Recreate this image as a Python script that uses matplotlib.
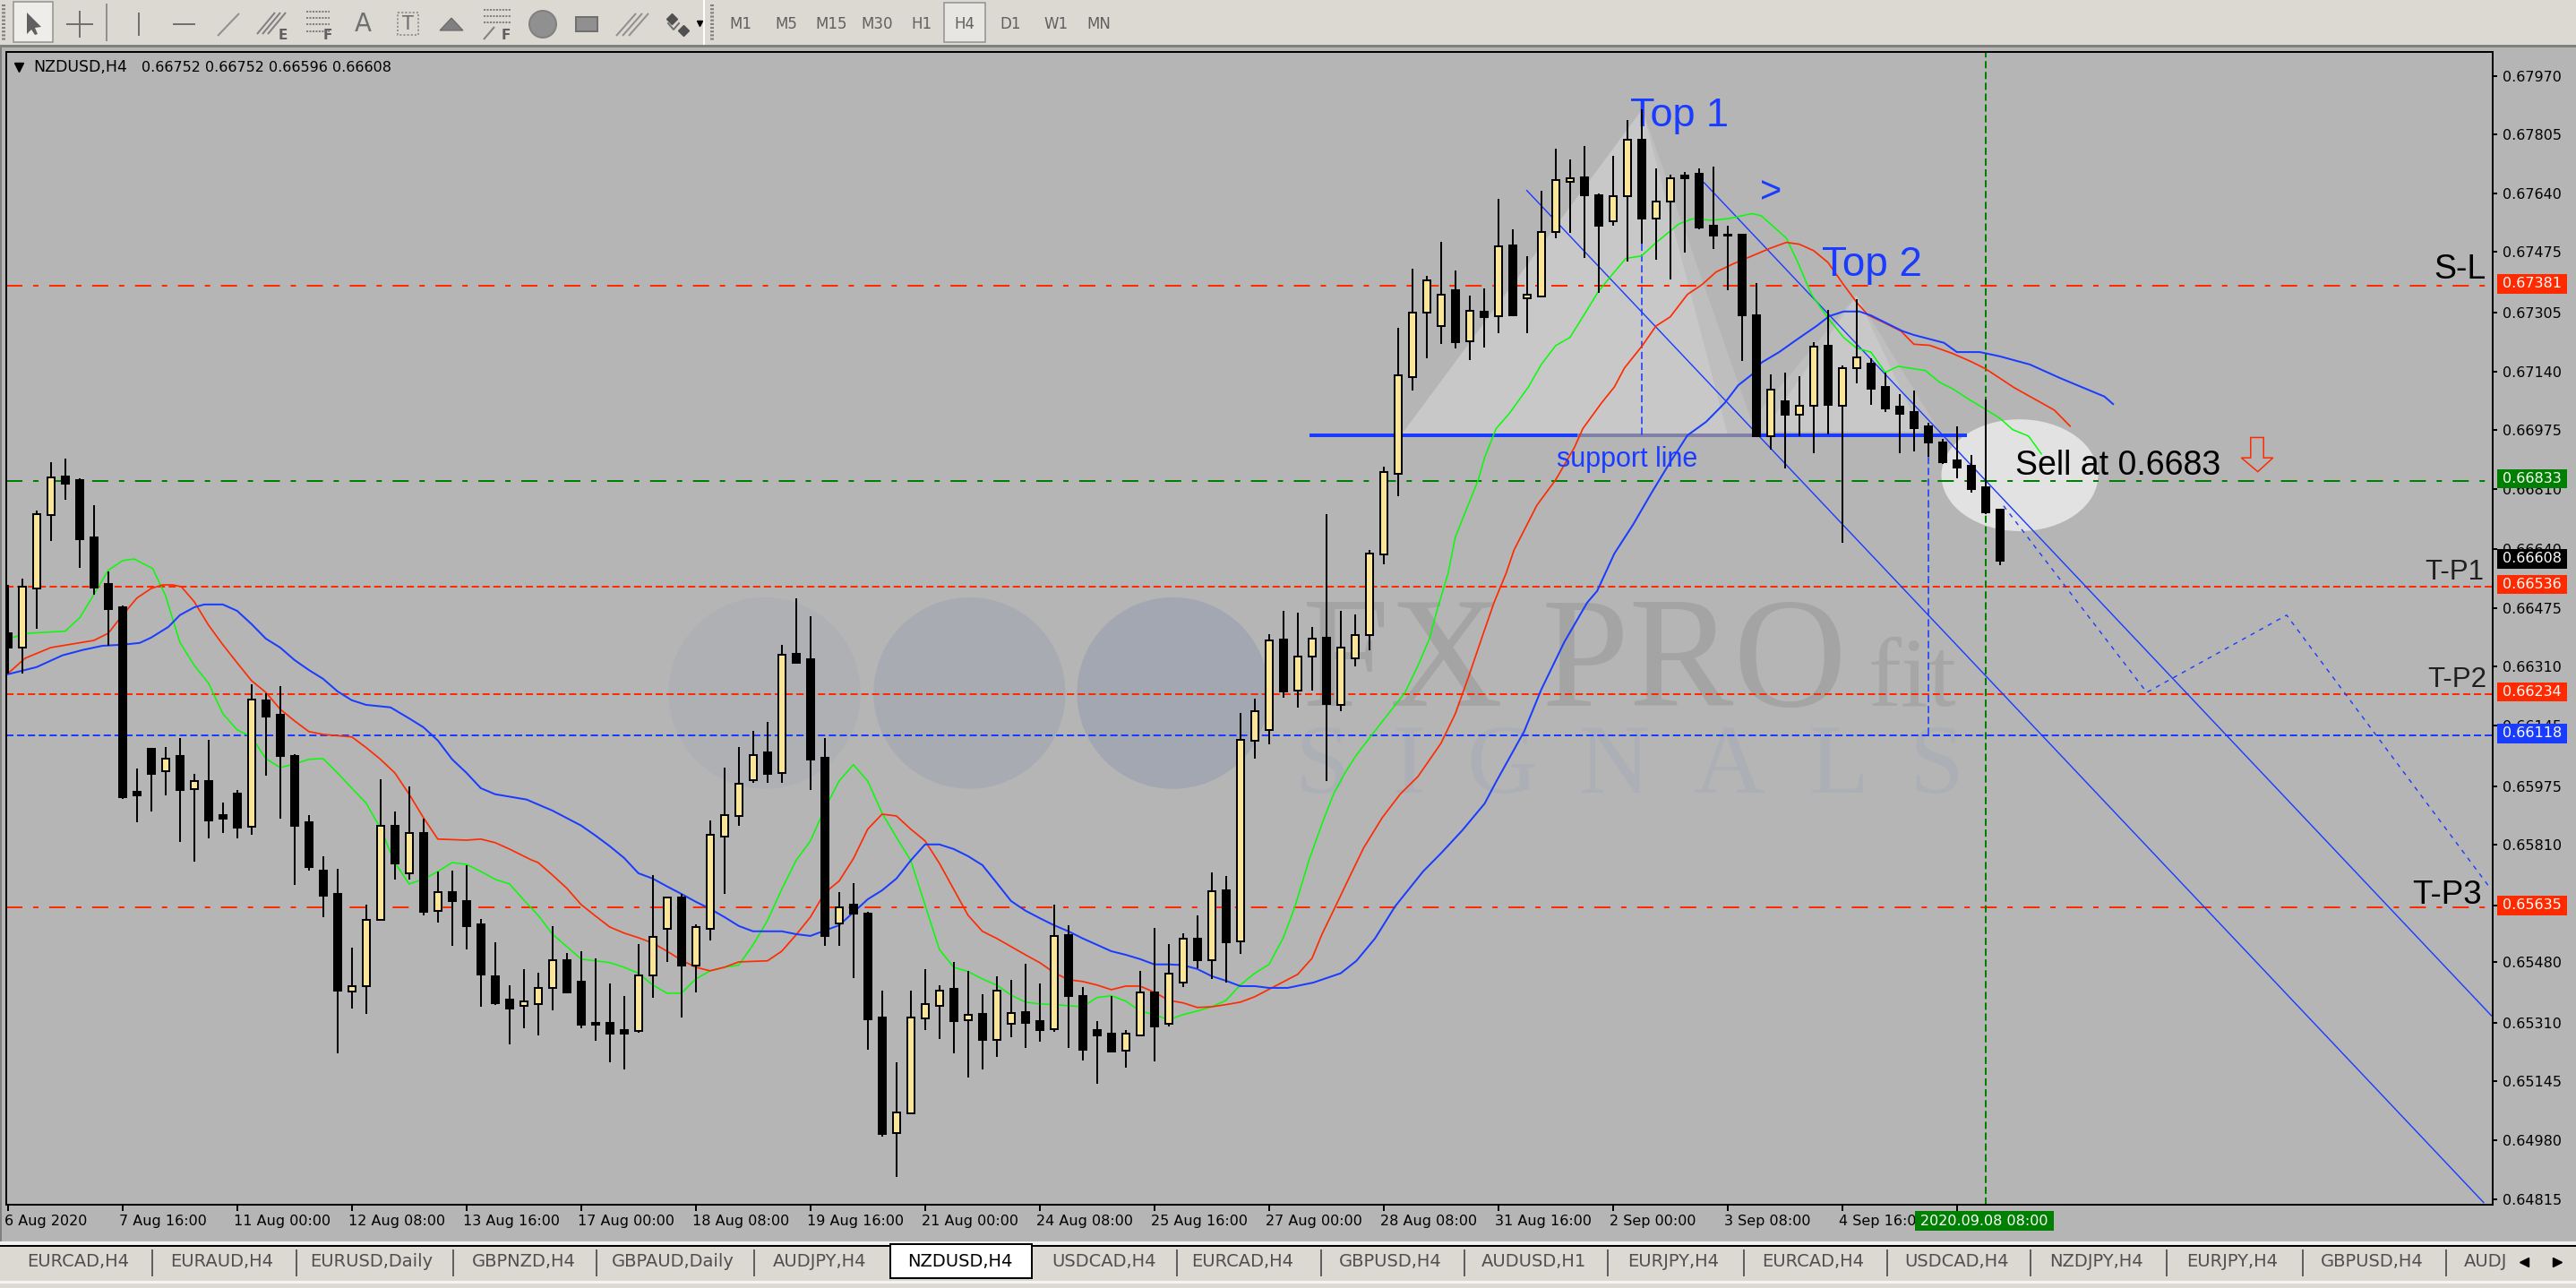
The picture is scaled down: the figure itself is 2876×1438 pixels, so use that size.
import matplotlib
matplotlib.use("Agg")
import matplotlib.pyplot as plt
import numpy as np
from matplotlib.patches import Ellipse, Polygon, Rectangle
from matplotlib.transforms import ScaledTranslation

plt.rcParams['lines.scale_dashes'] = False
plt.rcParams['font.family'] = ['DejaVu Sans']

# prices are kept in points (1 point = 0.00001)
opens = [66405,66363,66530,66736,66845,66835,66674,66543,66477,65959,66080,66016,66060,65966,65989,65894,65954,65860,66216,66176,
         66060,65874,65738,65672,65397,65412,65599,65864,65730,65843,65624,65677,65652,65587,65441,65376,65357,65362,65407,65486,
         65426,65310,65310,65290,65287,65443,65574,65661,65472,65574,65834,65890,65992,66070,66012,66347,66332,66055,65588,65642,
         65617,65325,65000,65055,65323,65358,65406,65318,65335,65262,65308,65340,65315,65293,65557,65386,65290,65280,65231,65275,
         65396,65306,65422,65545,65487,65681,65539,66103,66133,66387,66243,66338,66391,66204,66333,66399,66626,66851,67123,67304,
         67268,67368,67224,67308,67295,67494,67345,67349,67531,67672,67685,67635,67562,67631,67791,67570,67616,67689,67694,67548,
         67523,67523,67297,66957,67055,67019,67044,67212,67043,67148,67162,67096,67041,67026,66986,66940,66890,66875,66815,66752]
highs = [66541,66558,66749,66885,66895,66840,66764,66578,66482,66025,66080,66085,66110,66010,66105,65929,65964,66261,66236,66256,
         66065,65894,65778,65743,65521,65642,65994,65904,65974,65884,65735,65738,65753,65602,65537,65416,65461,65451,65582,65506,
         65511,65491,65421,65386,65532,65726,65661,65672,65587,65879,66028,66085,66130,66155,66372,66503,66452,66110,65677,65703,
         65621,65400,65199,65400,65461,65416,65481,65456,65391,65441,65430,65475,65421,65641,65584,65410,65315,65386,65290,65456,
         65577,65532,65562,65612,65733,65723,66181,66221,66402,66467,66462,66422,66739,66467,66457,66638,66873,67262,67428,67408,
         67504,67422,67353,67372,67625,67539,67464,67648,67765,67735,67774,67640,67745,67846,67876,67710,67693,67700,67710,67715,
         67548,67523,67388,67131,67136,67126,67222,67313,67157,67343,67177,67136,67076,67086,66996,66950,66986,66905,67061,66752]
lows = [66292,66292,66418,66664,66779,66588,66513,66370,65939,65874,65904,65949,65818,65763,65828,65843,65828,65838,66005,65884,
        65698,65738,65607,65225,65350,65335,65599,65713,65713,65612,65592,65527,65516,65355,65361,65250,65295,65275,65345,65396,
        65295,65260,65199,65179,65282,65381,65481,65326,65396,65542,65672,65864,65984,65984,65984,66322,65964,65527,65527,65436,
        65235,64990,64877,65055,65290,65265,65225,65157,65180,65215,65270,65240,65256,65285,65240,65203,65139,65230,65184,65272,
        65201,65300,65411,65464,65433,65422,65504,66051,66091,66223,66196,66242,65990,66186,66311,66357,66599,66790,67087,67177,
        67217,67203,67172,67208,67247,67297,67247,67350,67514,67529,67459,67361,67549,67448,67499,67453,67398,67474,67540,67484,
        67368,67168,66958,66921,66867,66958,66910,66963,66659,67106,67046,67026,66910,66915,66900,66880,66840,66799,66739,66596]
closes = [66364,66536,66738,66843,66825,66669,66533,66472,65944,65949,66010,66053,65964,65988,65879,65884,65859,66219,66171,66060,
          65864,65748,65667,65401,65414,65600,65862,65758,65842,65622,65676,65652,65582,65446,65366,65350,65370,65409,65485,65396,
          65305,65305,65280,65280,65444,65552,65661,65472,65580,65837,65893,65982,66063,66010,66344,66322,66050,65554,65635,65617,
          65320,64998,65057,65324,65363,65400,65315,65333,65262,65400,65338,65310,65290,65554,65386,65235,65275,65230,65280,65396,
          65300,65449,65545,65486,65680,65537,66104,66186,66385,66241,66340,66390,66206,66365,66400,66627,66858,67130,67306,67396,
          67356,67222,67311,67293,67492,67297,67356,67532,67678,67683,67635,67549,67633,67790,67569,67618,67683,67682,67543,67520,
          67520,67297,66957,67089,67017,67044,67210,67046,67150,67179,67091,67036,67021,66981,66940,66885,66870,66810,66744,66608]

green_x = [0,1.4,4,5,6,7,8,8.8,10.1,11,12,13,14,15,16,17,18,19,20,21,22,23,24,25,26,27,28,29,30,31,32,33,34,35,36,37,38,39,40,
           41,42,43,44,45,46,47,48,49,50,51,52,53,54,55,56,57,58,59,60,61,62,63,64,65,66,67,68,69,70,71,72,73,74,75,76,77,78,79,
           80,81,82,83,84,85,86,87,88,89,89.8,90.8,91.7,92.5,93.3,94.1,95.2,97.5,98.4,99.2,99.7,100.5,101,102.6,103.05,103.85,
           104.8,106.1,107,108,109,109.9,111,112.1,112.9,114,115,116.6,117.6,118.8,120.1,121.7,122.35,124.1,124.9,125.85,127,
           128.1,129,130,131,131.9,133.8,134.8,135.7,136.85,138,139,139.9,141,141.9]
green_y = [66389,66404,66410,66447,66513,66581,66608,66613,66586,66510,66379,66314,66264,66178,66133,66113,66052,66027,66037,
           66050,66052,66012,65969,65927,65856,65760,65700,65713,65735,65760,65755,65735,65713,65700,65655,65612,65559,65524,
           65489,65484,65479,65466,65449,65416,65393,65393,65433,65456,65466,65472,65529,65597,65685,65766,65821,65911,65989,
           66035,65989,65899,65831,65766,65641,65516,65466,65454,65433,65416,65388,65368,65363,65361,65358,65355,65381,65386,
           65371,65343,65333,65318,65333,65343,65355,65373,65416,65449,65474,65549,65635,65768,65869,65952,66012,66062,66120,
           66238,66314,66389,66465,66573,66674,66835,66898,66979,67023,67096,67159,67212,67235,67293,67365,67419,67457,67464,
           67501,67554,67569,67564,67569,67583,67577,67514,67446,67356,67290,67235,67205,67194,67137,67154,67142,67109,67091,
           67061,67033,67008,66976,66958,66908]

red_x = [0,1.2,3,4.5,6,7,8,9,10,10.8,11.5,12.1,13,14,15,16,17,18,19,20,21,22,24,25,26,27,28,29,30,32,33,34,35,36.5,37,38,39,40,
         41,42,43,44,45,46,47,48,49,50,51,53,54,55,56,57,58,59,60,61,62,63,64,65,66,67,68,69,70,71,72,73,74,75,76,77,78,79,80,
         81,82,83,84,85,86,87,90,91,91.7,92.7,93.6,94.6,95.9,97.15,98.4,100,101,101.9,102.9,103.7,104.55,105.1,106.7,108,109.3,
         109.9,111.2,112.1,112.8,114.05,115,116,117.2,118.2,119.2,120.4,121.7,123,124.1,125,126,127,128.1,129,129.8,130.95,
         132.1,133,134.1,135.7,136.95,138,140,142.8,143.9]
red_y = [66291,66334,66364,66374,66384,66404,66455,66503,66530,66540,66540,66535,66493,66427,66372,66321,66271,66238,66191,66158,
         66128,66120,66113,66083,66050,66012,65952,65886,65826,65823,65826,65816,65798,65768,65760,65725,65688,65642,65610,65579,
         65562,65549,65534,65511,65486,65466,65456,65466,65481,65484,65511,65557,65607,65675,65708,65771,65854,65896,65891,65854,
         65821,65758,65685,65612,65567,65547,65524,65501,65479,65451,65431,65426,65416,65403,65413,65413,65396,65373,65366,65353,
         65355,65361,65368,65383,65446,65491,65559,65642,65718,65801,65886,65952,66002,66095,66178,66279,66397,66490,66573,66638,
         66764,66835,66925,66979,67051,67096,67149,67212,67267,67293,67356,67383,67419,67442,67464,67486,67502,67497,67479,67446,
         67383,67334,67298,67276,67253,67216,67213,67190,67168,67147,67094,67031,66986]

blue_x = [0,2,3.8,5.2,6.6,8,9.2,10,11.2,12,13,13.7,15,16,17,18,19,20,21,22,23,24,25,26.7,28,29,30,31,32,33,34,36.2,38,40,41,42,43,
          44,45,46,47,48,49,50,51,52,53,54,55,56,57,58,59,60,61,62,63,64,65,66,67,68,69,70,71,72,73,74,75,76,77,78,79,80,81,82,83,
          84,85,86,87,88,89.3,91.1,93,94.1,95.4,96.8,98.75,100,101.5,103.05,103.85,105.8,107,108.6,110.2,110.9,112.1,113.4,114.7,
          115.8,117.2,118.5,119.8,120.75,121.7,122.35,123.6,124.9,126.2,127.1,128.1,129.2,130,132.2,133,135.1,136,137.6,139,141.1,
          143.2,146.3,146.9]
blue_y = [66289,66309,66342,66357,66369,66372,66377,66392,66422,66455,66477,66485,66485,66467,66430,66389,66364,66329,66301,66276,
          66241,66216,66203,66196,66165,66140,66103,66050,66012,65969,65952,65937,65906,65864,65836,65806,65773,65730,65715,65693,
          65672,65650,65630,65607,65582,65567,65567,65567,65559,65554,65569,65584,65620,65657,65682,65715,65766,65811,65811,65798,
          65778,65753,65703,65652,65625,65604,65584,65567,65547,65529,65511,65501,65489,65474,65474,65472,65461,65441,65428,65413,
          65413,65408,65408,65423,65449,65484,65547,65637,65735,65786,65851,65926,65987,66128,66246,66379,66490,66523,66628,66709,
          66799,66872,66960,66998,67051,67101,67131,67164,67194,67231,67267,67295,67308,67308,67297,67253,67242,67220,67194,67194,
          67182,67159,67121,67069,67048]

# horizontal levels
sl_level = 0.67381
sell_level = 0.66833
tp1_level = 0.66536
tp2_level = 0.66234
blue_level = 0.66118
tp3_level = 0.65635
last_price = 0.66608
support_level = 0.66961

# hand drawn objects, (candle, points)
line_a = ([105.99, 172.76], [67648, 64805])
line_b = ([118.36, 173.3], [67670, 65330])
forecast = ([139.26, 149.25, 159.01, 173.2], [66762, 66238, 66455, 65689])
top1_outer = [(97.3, 66965), (114.05, 67876), (122, 66963)]
top1_inner = [(97.3, 66965), (114.05, 67876), (120, 66963)]
top2_outer = [(121, 66970), (129, 67353), (134.8, 66970)]
top2_inner = [(122.5, 66970), (129, 67353), (133.5, 66970)]
arrow_pts = [(156.5, 66954), (157.4, 66954), (157.4, 66897), (158.06, 66897), (157, 66858),
             (155.85, 66897), (156.5, 66897)]

ytick_vals = [0.67970,0.67805,0.67640,0.67475,0.67305,0.67140,0.66975,0.66810,0.66640,0.66475,0.66310,0.66145,
              0.65975,0.65810,0.65640,0.65480,0.65310,0.65145,0.64980,0.64815]
xtick_idx = list(range(0, 137, 8))
xtick_lab = ["6 Aug 2020","7 Aug 16:00","11 Aug 00:00","12 Aug 08:00","13 Aug 16:00","17 Aug 00:00","18 Aug 08:00",
             "19 Aug 16:00","21 Aug 00:00","24 Aug 08:00","25 Aug 16:00","27 Aug 00:00","28 Aug 08:00","31 Aug 16:00",
             "2 Sep 00:00","3 Sep 08:00","4 Sep 16:00","8 Sep 00:00"]
tab_names = ["EURCAD,H4","EURAUD,H4","EURUSD,Daily","GBPNZD,H4","GBPAUD,Daily","AUDJPY,H4","NZDUSD,H4","USDCAD,H4","EURCAD,H4",
             "GBPUSD,H4","AUDUSD,H1","EURJPY,H4","EURCAD,H4","USDCAD,H4","NZDJPY,H4","EURJPY,H4","GBPUSD,H4","AUDJ"]
tab_pos = [87,248,415,585,751,915.5,1071.6,1232,1387,1552.6,1712,1868.5,2023.7,2184,2340.5,2492,2648,2775]
tab_seps = [170,330.6,506,666,842,1314,1474.6,1635,1795,1946.6,2107,2267,2418.5,2571,2731]
period_names = ["M1","M5","M15","M30","H1","H4","D1","W1","MN"]
period_pos = [827,878,928.6,979,1029,1077,1128,1179,1227]

BG = '#B5B5B5'
BAR = '#DCD8D2'
RED = '#FF2A00'
BLUE = '#1A3CFF'
DGREEN = '#008000'
LGREEN = '#00FF00'
YEL = '#FBE59B'
DASHDOT = (0, (13, 8.6, 4.3, 8.6))
DASHED = (0, (5.8, 2.9))
PX = 0.72  # one pixel in points at dpi 100

fig = plt.figure(figsize=(28.76, 14.38), dpi=100, facecolor=BG)
W, H = 2876, 1438
ax = fig.add_axes([7/W, 1-1345/H, (2783-7)/W, (1345-58)/H], facecolor=BG)

o = np.array(opens) / 1e5
h = np.array(highs) / 1e5
l = np.array(lows) / 1e5
c = np.array(closes) / 1e5
x = np.arange(len(o))
up = c > o
down = ~up

# watermark
for cx, col in zip([52.8, 67.1, 81.3], ['#AEB0B4', '#A8ACB2', '#A2A7B1']):
    ax.add_patch(Ellipse((cx, 0.66236), 13.4, 0.00538, fc=col, ec='none', zorder=1))
ax.text(90.3, 0.66201, "FX PRO", family='Liberation Serif', fontsize=126, color='#A4A4A4', va='baseline', zorder=1)
ax.text(129.8, 0.66201, "fit", family='Liberation Serif', fontsize=80, color='#A6A6A6', va='baseline', zorder=1)
for cx, ch in zip([91.7, 97.8, 104.3, 112.1, 120.1, 127.8, 134.6], "SIGNALS"):
    ax.text(cx, 0.65957, ch, family='Liberation Serif', fontsize=79, color='#ACB0B6', ha='center', va='baseline', zorder=1)

# shaded pattern objects
for pts, col in [(top1_outer, '#BEBEBE'), (top1_inner, '#C8C8C8'), (top2_outer, '#BEBEBE'), (top2_inner, '#C8C8C8')]:
    ax.add_patch(Polygon([(a, b / 1e5) for a, b in pts], fc=col, ec='none', zorder=1.5))
ax.add_patch(Ellipse((140.39, 0.66848), 10.94, 0.00314, fc='#E2E2E2', ec='none', zorder=1.5))

# levels
ax.axhline(sl_level, color=RED, lw=2*PX, ls=DASHDOT, zorder=2)
ax.axhline(sell_level, color=DGREEN, lw=2*PX, ls=DASHDOT, zorder=2)
ax.axhline(tp3_level, color=RED, lw=2*PX, ls=DASHDOT, zorder=2)
ax.axhline(tp1_level, color=RED, lw=2*PX, ls=DASHED, zorder=2)
ax.axhline(tp2_level, color=RED, lw=2*PX, ls=DASHED, zorder=2)
ax.axhline(blue_level, color=BLUE, lw=2*PX, ls=DASHED, zorder=2)
ax.axvline(138, color=DGREEN, lw=2*PX, ls=DASHED, zorder=2)

# support line and the two vertical guides
ax.plot([90.8, 136.7], [support_level, support_level], color=BLUE, lw=4*PX, solid_capstyle='butt', zorder=2.1)
ax.plot([109.5, 121.9], [support_level, support_level], color='#8080A8', lw=4*PX, solid_capstyle='butt', zorder=2.1)
ax.plot([114, 114], [0.67499, support_level], color=BLUE, lw=1.6*PX, ls=DASHED, zorder=2.1)
ax.plot([134, 134], [support_level, blue_level], color=BLUE, lw=1.6*PX, ls=DASHED, zorder=2.1)

# trend lines
ax.plot(line_a[0], np.array(line_a[1]) / 1e5, color=BLUE, lw=1.4*PX, zorder=2.2)
ax.plot(line_b[0], np.array(line_b[1]) / 1e5, color=BLUE, lw=1.4*PX, zorder=2.2)
ax.plot(forecast[0], np.array(forecast[1]) / 1e5, color=BLUE, lw=1.4*PX, ls=(0, (3.6, 4.3)), zorder=2.2)

# moving averages
ax.plot(green_x, np.array(green_y) / 1e5, color=LGREEN, lw=1.5*PX, zorder=3)
ax.plot(red_x, np.array(red_y) / 1e5, color=RED, lw=1.7*PX, zorder=3)
ax.plot(blue_x, np.array(blue_y) / 1e5, color=BLUE, lw=2*PX, zorder=3)

# annotations
ax.text(113.2, 0.67828, "Top 1", family='Liberation Sans', fontsize=32.5, color=BLUE, va='baseline', zorder=4)
ax.text(126.6, 0.67408, "Top 2", family='Liberation Sans', fontsize=33, color=BLUE, va='baseline', zorder=4)
ax.text(123, 0.67642, ">", family='Liberation Sans', fontsize=30, color=BLUE, ha='center', va='center', zorder=4)
ax.text(108.1, 0.66872, "support line", family='Liberation Sans', fontsize=22, color=BLUE, va='baseline', zorder=4)
ax.text(140.1, 0.66850, "Sell at 0.6683", family='Liberation Sans', fontsize=27, color='black', va='baseline', zorder=4)
ax.text(172.95, 0.67401, "S-L", family='Liberation Sans', fontsize=27, color='black', ha='right', va='baseline', zorder=4)
ax.text(172.76, 0.66555, "T-P1", family='Liberation Sans', fontsize=22.5, color='#202020', ha='right', va='baseline', zorder=4)
ax.text(173, 0.66252, "T-P2", family='Liberation Sans', fontsize=22.5, color='#202020', ha='right', va='baseline', zorder=4)
ax.text(172.6, 0.65645, "T-P3", family='Liberation Sans', fontsize=26.5, color='black', ha='right', va='baseline', zorder=4)
ax.add_patch(Polygon([(a, b / 1e5) for a, b in arrow_pts], fc='none', ec=RED, lw=1.5*PX, zorder=4))

# candles
ax.vlines(x, l, h, color='black', lw=2*PX, zorder=5)
ax.bar(x[down], (o - c)[down], bottom=c[down], width=0.5, color='black', edgecolor='black', linewidth=2*PX, zorder=6)
ax.bar(x[up], (c - o)[up], bottom=o[up], width=0.47, color=YEL, edgecolor='black', linewidth=2*PX, zorder=6)

ax.set_xlim(-0.1125, 173.39)
ax.set_ylim(0.64799, 0.68037)
for s in ax.spines.values():
    s.set_linewidth(2*PX)
ax.yaxis.tick_right()
ax.set_yticks(ytick_vals)
ax.set_yticklabels([f"{v:.5f}" for v in ytick_vals])
ax.tick_params(axis='y', length=5*PX, width=2*PX, pad=4.3, labelsize=11.5)
ax.set_xticks(xtick_idx)
ax.set_xticklabels(xtick_lab, ha='left')
ax.tick_params(axis='x', length=7*PX, width=2*PX, pad=3, labelsize=11.5)
shift = ScaledTranslation(-4/100, 0, fig.dpi_scale_trans)
for lab in ax.get_xticklabels():
    lab.set_transform(lab.get_transform() + shift)

# window chrome, drawn in screen pixels on a top layer
ui = fig.add_axes([0, 0, 1, 1], facecolor='none')
ui.set_xlim(0, W)
ui.set_ylim(H, 0)
ui.axis('off')


def box(x0, y0, x1, y1, fc, ec='none', lw=0, z=2):
    ui.add_patch(Rectangle((x0, y0), x1-x0, y1-y0, fc=fc, ec=ec, lw=lw*PX, zorder=z))


def seg(xs, ys, col='#707070', lw=2, ls='-', z=3):
    ui.plot(xs, ys, color=col, lw=lw*PX, ls=ls, zorder=z, solid_capstyle='butt')


# top toolbar
box(0, 0, W, 50, BAR)
box(0, 50, W, 53, '#808080')
box(0, 53, 2, 1386, '#808080')
seg([786, 786], [0, 50], 'white', 2)
for gx in [4, 795]:
    seg([gx, gx], [5, 45], '#808080', 4, (0, (1.5, 1.5)))
box(15, 2, 59, 47, '#EFEDE9', '#909090', 1.5)
ui.add_patch(Polygon([(30, 14), (30, 38), (35, 33), (39, 39), (42, 38), (39, 31), (46, 30)], fc='#606060', ec='none', zorder=3))
seg([89, 89], [12, 42]); seg([74, 104], [27, 27])
seg([119, 119], [4, 46], '#909090')
seg([155, 155], [14, 40]); seg([193, 218], [27, 27]); seg([243, 267], [40, 15], '#909090')
for dx in [-6, 0, 6]:
    seg([293+dx, 313+dx], [38, 14], '#808080', 2)
ui.text(316, 40, "E", fontsize=11, color='#606060', ha='center', va='center', fontweight='bold')
for yy in [13, 20, 27, 35]:
    seg([342, 368], [yy, yy], '#808080', 2, (0, (1.5, 1)))
ui.text(366, 40, "F", fontsize=11, color='#606060', ha='center', va='center', fontweight='bold')
ui.text(405, 27, "A", fontsize=20, color='#707070', ha='center', va='center')
ui.add_patch(Rectangle((444, 14), 23, 25, fc='none', ec='#808080', lw=1.5*PX, ls=(0, (1.5, 1.5)), zorder=3))
ui.text(455, 27, "T", fontsize=15, color='#707070', ha='center', va='center')
ui.add_patch(Polygon([(491, 34), (517, 34), (504, 20)], fc='#808080', ec='#606060', lw=PX, zorder=3))
for yy in [11, 18, 25]:
    seg([540, 570], [yy, yy], '#808080', 2, (0, (1.5, 1)))
seg([540, 552], [44, 30], '#808080', 2)
ui.text(565, 39, "F", fontsize=11, color='#606060', ha='center', va='center', fontweight='bold')
ui.add_patch(Ellipse((606, 27), 30, 30, fc='#909090', ec='#808080', lw=2*PX, zorder=3))
box(643, 19, 667, 35, '#909090', '#707070', 2, 3)
for dx in [-7, 0, 7]:
    seg([695+dx, 717+dx], [40, 15], '#909090', 2)
ui.plot([746, 752, 758], [26, 33, 26], color='#707070', lw=2*PX, zorder=3)
ui.plot([750], [21], marker='D', ms=6, color='#505050', zorder=3)
ui.plot([763], [34], marker='D', ms=6, color='#505050', zorder=3)
ui.plot([781], [26], marker='v', ms=5, color='black', zorder=3)
box(1054, 3, 1100, 47, '#E8E6E2', '#909090', 1.5)
for nm, px_ in zip(period_names, period_pos):
    ui.text(px_, 27, nm, fontsize=12, color='#606060', ha='center', va='center', zorder=3)

# symbol caption
ui.plot([21], [75], marker='v', ms=7, color='black')
ui.text(37, 75, "NZDUSD,H4", fontsize=12.5, color='black', va='center')
ui.text(158, 75, "0.66752 0.66752 0.66596 0.66608", fontsize=11.5, color='black', va='center')

# price tags on the right
y0_, y1_ = ax.get_ylim()


def price_px(p):
    return 1345 - (p - y0_) / (y1_ - y0_) * (1345 - 58)


for p, col in [(sl_level, RED), (sell_level, DGREEN), (last_price, 'black'), (tp1_level, RED),
               (tp2_level, RED), (blue_level, BLUE), (tp3_level, RED)]:
    yy = price_px(p) - 2
    box(2788, yy-10.8, 2866, yy+10.8, col, z=4)
    ui.text(2794, yy, f"{p:.5f}", fontsize=11.5, color='white', va='center', zorder=5)

# time tag
box(2137.6, 1352, 2293, 1373.7, DGREEN, z=4)
ui.text(2215, 1363, "2020.09.08 08:00", fontsize=11.5, color='white', ha='center', va='center', zorder=5)

# bottom tabs
box(0, 1386, W, 1390, '#F0F0F0')
box(0, 1390, W, 1392, 'black')
box(0, 1392, W, 1430, BAR)
box(0, 1430, W, 1433, '#F4F4F4')
box(0, 1433, W, H, BAR)
box(993.6, 1389, 1152.4, 1427, 'white', 'black', 2, 3)
for sx in tab_seps:
    seg([sx, sx], [1395, 1425], '#606060', 2)
for nm, px_ in zip(tab_names, tab_pos):
    col = 'black' if nm == "NZDUSD,H4" else '#505050'
    ui.text(px_, 1409, nm, fontsize=14, color=col, ha='center', va='center', zorder=4)
ui.plot([2818], [1409], marker='<', ms=7, color='black', zorder=4)
ui.plot([2855], [1409], marker='>', ms=7, color='black', zorder=4)

fig.savefig('out.png', dpi=100, facecolor=BG)
